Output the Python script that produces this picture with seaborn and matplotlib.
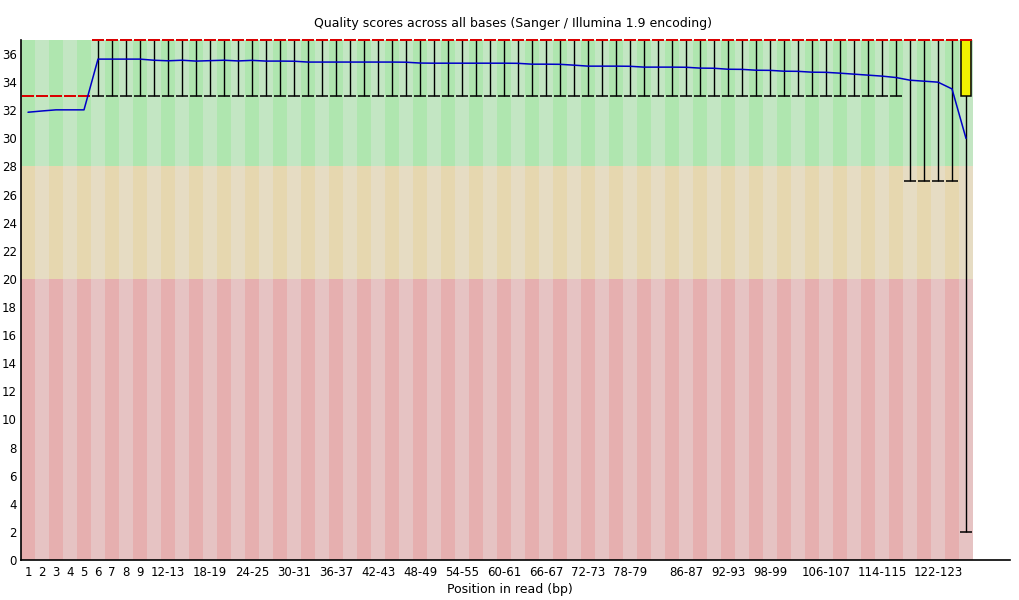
import numpy as np
import matplotlib
matplotlib.use("Agg")
import matplotlib.pyplot as plt
import seaborn as sns

# Per-base quality data (FastQC style), one entry per column
positions = ["1", "2", "3", "4", "5", "6", "7", "8", "9",
             "10-11", "12-13", "14-15", "16-17", "18-19", "20-21", "22-23", "24-25",
             "26-27", "28-29", "30-31", "32-33", "34-35", "36-37", "38-39", "40-41",
             "42-43", "44-45", "46-47", "48-49", "50-51", "52-53", "54-55", "56-57",
             "58-59", "60-61", "62-63", "64-65", "66-67", "68-69", "70-71", "72-73",
             "74-75", "76-77", "78-79", "80-81", "82-83", "84-85", "86-87", "88-89",
             "90-91", "92-93", "94-95", "96-97", "98-99", "100-101", "102-103",
             "104-105", "106-107", "108-109", "110-111", "112-113", "114-115",
             "116-117", "118-119", "120-121", "122-123", "124-125", "126-127"]

shown_labels = ["1", "2", "3", "4", "5", "6", "7", "8", "9", "12-13", "18-19", "24-25",
                "30-31", "36-37", "42-43", "48-49", "54-55", "60-61", "66-67", "72-73",
                "78-79", "86-87", "92-93", "98-99", "106-107", "114-115", "122-123"]

mean_q = [31.86, 31.95, 32.03, 32.03, 32.03, 35.64, 35.64, 35.64, 35.64, 35.56,
          35.52, 35.56, 35.50, 35.53, 35.56, 35.51, 35.55, 35.50, 35.50, 35.49,
          35.43, 35.43, 35.43, 35.43, 35.43, 35.43, 35.43, 35.42, 35.36, 35.35,
          35.35, 35.35, 35.35, 35.35, 35.35, 35.34, 35.28, 35.28, 35.27, 35.21,
          35.14, 35.14, 35.14, 35.13, 35.07, 35.07, 35.07, 35.06, 35.00, 34.99,
          34.92, 34.91, 34.85, 34.84, 34.78, 34.77, 34.71, 34.70, 34.64, 34.57,
          34.50, 34.43, 34.33, 34.14, 34.07, 34.00, 33.52, 30.00]

median_q = [33] * 5 + [37] * 63
lower_q = [33] * 5 + [37] * 62 + [33]      # 25th percentile
upper_q = [33] * 5 + [37] * 63             # 75th percentile
p10 = [33] * 5 + [33] * 58 + [27] * 4 + [2]
p90 = [33] * 5 + [37] * 63

sns.set_style("white")
plt.rcParams["font.family"] = ["DejaVu Sans"]
plt.rcParams["text.color"] = "black"
plt.rcParams["xtick.color"] = "black"
plt.rcParams["ytick.color"] = "black"

cols = np.arange(1, len(positions) + 1)

fig = plt.figure(figsize=(10.2, 6), dpi=100)
ax = fig.add_axes([21 / 1020, 40 / 600, 989 / 1020, 520 / 600])

ymax = 37
# background stripes: red / orange / green zones, alternating shade per column
dark = cols % 2 == 1
ax.bar(cols, 20, bottom=0, width=1.0, zorder=0, linewidth=0,
       color=np.where(dark, "#E6AFAF", "#E6C3C3"))
ax.bar(cols, 8, bottom=20, width=1.0, zorder=0, linewidth=0,
       color=np.where(dark, "#E6D7AF", "#E6DCC3"))
ax.bar(cols, ymax - 28, bottom=28, width=1.0, zorder=0, linewidth=0,
       color=np.where(dark, "#AFE6AF", "#C3E6C3"))

# whiskers (10th - 90th percentile)
ax.vlines(cols, p10, p90, color="black", lw=1.0, zorder=2, clip_on=False)
ax.hlines(p10, cols - 0.4, cols + 0.4, color="black", lw=1.1, zorder=2)
ax.hlines(p90, cols - 0.4, cols + 0.4, color="black", lw=1.1, zorder=2, clip_on=False)

# inter-quartile boxes
heights = np.array(upper_q) - np.array(lower_q)
ax.bar(cols, heights, bottom=lower_q, width=0.78, color="#F0F000",
       edgecolor="black", linewidth=1.1, zorder=3, clip_on=False)

# median
ax.hlines(median_q, cols - 0.4, cols + 0.4, color="#E00000", lw=1.4, zorder=4, clip_on=False)

# mean
sns.lineplot(x=cols, y=mean_q, color="#0000C8", lw=1.1, ax=ax, zorder=5)

ax.set_xlim(0.5, 0.5 + 989 / 14)
ax.set_ylim(0, ymax)
ax.set_yticks(np.arange(0, 37, 2))
ax.set_yticklabels([str(v) for v in range(0, 37, 2)], fontsize=8.5)
ax.set_xticks([positions.index(l) + 1 for l in shown_labels])
ax.set_xticklabels(shown_labels, fontsize=8.5)
ax.tick_params(axis="both", length=0)
ax.tick_params(axis="x", pad=4)
ax.tick_params(axis="y", pad=3)

for side in ["top", "right"]:
    ax.spines[side].set_visible(False)
for side in ["left", "bottom"]:
    ax.spines[side].set_color("black")
    ax.spines[side].set_linewidth(1.2)

fig.text(0.503, 1 - 24 / 600, "Quality scores across all bases (Sanger / Illumina 1.9 encoding)",
         ha="center", va="center", fontsize=9)
fig.text(0.5, 1 - 590 / 600, "Position in read (bp)", ha="center", va="center", fontsize=9)

fig.savefig("out.png", dpi=100)
